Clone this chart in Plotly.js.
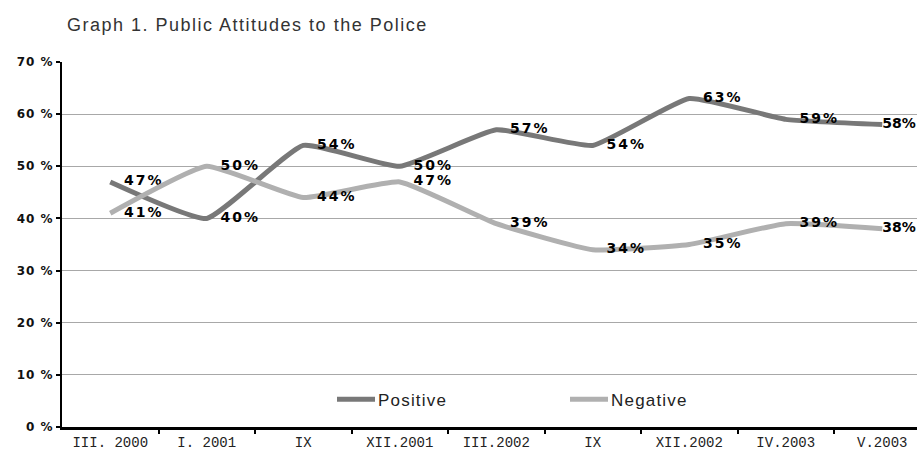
<!DOCTYPE html>
<html>
<head>
<meta charset="utf-8">
<script src="https://cdn.plot.ly/plotly-3.0.1.min.js"></script>
<style>
  html, body { margin: 0; padding: 0; background: #fff; }
  #chart { width: 917px; height: 457px; }
  .textpoint text { letter-spacing: 2px; }
  .textpoint:last-child text { letter-spacing: 0px; }
  .gtitle { letter-spacing: 1.5px; }
  .legendtext { letter-spacing: 1.2px; }
  .ytick text { letter-spacing: 1px; }
</style>
</head>
<body>
<div id="chart"></div>
<script>
const categories = ["III. 2000", "I. 2001", "IX", "XII.2001", "III.2002", "IX", "XII.2002", "IV.2003", "V.2003"];
const positive = [47, 40, 54, 50, 57, 54, 63, 59, 58];
const negative = [41, 50, 44, 47, 39, 34, 35, 39, 38];
const yTicks = [0, 10, 20, 30, 40, 50, 60, 70];

const idx = categories.map((c, i) => i);
const labelFont = { family: "DejaVu Sans", size: 14, color: "#000", weight: "bold" };
// last label sits tight against its point (as in the reference), others have a gap
const fmt = (arr) => arr.map((v, i) => (i === arr.length - 1 ? "" : "  ") + v + "%");

const traces = [
  {
    x: idx, y: positive, name: "Positive", type: "scatter", mode: "lines+text",
    text: fmt(positive), textposition: "middle right",
    textfont: labelFont,
    line: { color: "#787878", width: 5, shape: "spline", smoothing: 0.4 },
    cliponaxis: false, hoverinfo: "skip"
  },
  {
    x: idx, y: negative, name: "Negative", type: "scatter", mode: "lines+text",
    text: fmt(negative), textposition: "middle right",
    textfont: labelFont,
    line: { color: "#b0b0b0", width: 5, shape: "spline", smoothing: 0.4 },
    cliponaxis: false, hoverinfo: "skip"
  }
];

const layout = {
  width: 917, height: 457,
  margin: { l: 62, r: 0, t: 62, b: 30 },
  paper_bgcolor: "#fff", plot_bgcolor: "#fff",
  title: {
    text: "Graph 1. Public Attitudes to the Police",
    font: { family: "Liberation Sans", size: 18, color: "#333" },
    x: 67 / 917, xanchor: "left", y: 1 - 25 / 457, yanchor: "middle"
  },
  showlegend: true,
  legend: {
    orientation: "h", x: (335 - 62) / 855, y: 0.075, xanchor: "left", yanchor: "middle",
    font: { family: "Liberation Sans", size: 17, color: "#222" },
    bgcolor: "rgba(0,0,0,0)", entrywidth: 188, entrywidthmode: "pixels"
  },
  xaxis: {
    range: [-0.5, 8.36], tickmode: "array", tickvals: idx, ticktext: categories,
    ticks: "", showgrid: false, zeroline: false,
    showline: true, linecolor: "#000", linewidth: 3,
    tickfont: { family: "Liberation Mono", size: 14, color: "#222" },
    minor: { tickmode: "array", tickvals: [0.5, 1.5, 2.5, 3.5, 4.5, 5.5, 6.5, 7.5],
             ticks: "outside", ticklen: 4, tickwidth: 2, tickcolor: "#000", showgrid: false },
    fixedrange: true
  },
  yaxis: {
    range: [0, 70], tickmode: "array", tickvals: yTicks,
    ticktext: yTicks.map(v => v + " %"),
    ticks: "outside", ticklen: 4, tickwidth: 2, tickcolor: "#000",
    showgrid: true, gridcolor: "#a8a8a8", gridwidth: 1,
    zeroline: false, showline: true, linecolor: "#000", linewidth: 2,
    tickfont: { family: "DejaVu Sans", size: 12, color: "#111", weight: "bold" },
    fixedrange: true
  }
};

Plotly.newPlot("chart", traces, layout, { displayModeBar: false, staticPlot: true }).then(gd => {
  gd.querySelectorAll(".legendlines path").forEach(p => p.setAttribute("d", "M2,0h38"));
  gd.querySelectorAll(".legendtext").forEach(t => t.setAttribute("x", "43"));
});
</script>
</body>
</html>
